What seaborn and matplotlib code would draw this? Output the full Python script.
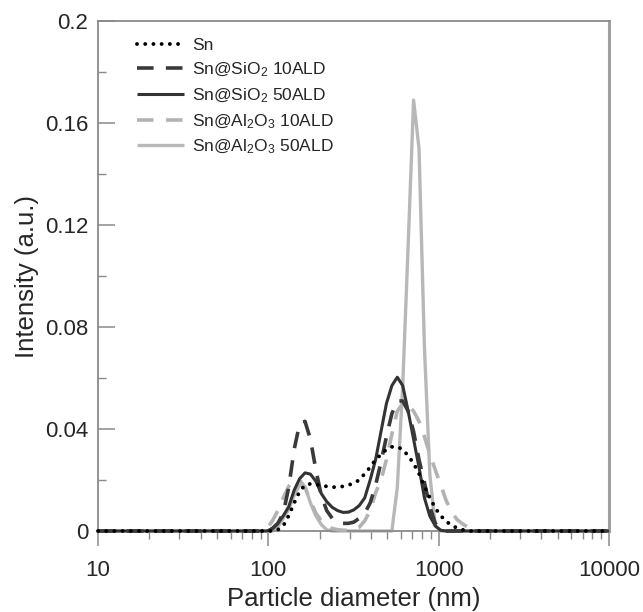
import numpy as np
import pandas as pd
import matplotlib
matplotlib.use("Agg")
import matplotlib.pyplot as plt
import seaborn as sns
from matplotlib.ticker import FixedLocator, LogLocator, NullFormatter

# ---------------- data ----------------
diam_low = [10.0, 11.7, 13.5, 15.7, 18.2, 21.0, 24.4, 28.2, 32.7, 37.8, 43.8,
            50.7, 58.8, 68.1, 78.8, 91.3]
diam_mid = [98.2, 105.7, 113.7, 122.4, 131.7, 141.8, 152.6, 164.2, 176.7, 190.1,
            204.6, 220.2, 237.0, 255.0, 274.4, 295.3, 317.8, 342.0, 368.1, 396.1,
            426.3, 458.7, 493.6, 531.2, 571.6, 615.1, 662.0, 712.4, 766.6, 825.0,
            887.8, 955.4, 1028, 1106, 1191, 1281, 1379, 1484, 1597, 1718, 1849, 1990]
diam_high = [2305, 2669, 3091, 3580, 4145, 4801, 5560, 6439, 7456, 8635, 10000]

sn = [0, 0, 0.0005, 0.002, 0.006, 0.011, 0.0155, 0.018, 0.0185, 0.0183,
      0.0178, 0.0175, 0.0172, 0.0172, 0.0175, 0.018, 0.0188, 0.020, 0.0225, 0.025,
      0.028, 0.030, 0.032, 0.033, 0.033, 0.032, 0.0295, 0.0265, 0.0225, 0.0175,
      0.013, 0.009, 0.006, 0.0038, 0.0022, 0.0012, 0.0005, 0, 0, 0, 0, 0]
sio2_10 = [0, 0.001, 0.003, 0.007, 0.017, 0.032, 0.042, 0.043, 0.036, 0.024,
           0.014, 0.008, 0.005, 0.0035, 0.003, 0.003, 0.0035, 0.005, 0.007, 0.011,
           0.018, 0.027, 0.037, 0.046, 0.051, 0.051, 0.047, 0.039, 0.028, 0.019,
           0.0095, 0.003, 0.0005, 0, 0, 0, 0, 0, 0, 0, 0, 0]
sio2_50 = [0, 0.001, 0.003, 0.006, 0.0095, 0.016, 0.0205, 0.0228, 0.0223, 0.0195,
           0.0147, 0.0115, 0.0093, 0.008, 0.0073, 0.0074, 0.0083, 0.010, 0.013, 0.020,
           0.028, 0.039, 0.050, 0.057, 0.0603, 0.057, 0.047, 0.036, 0.025, 0.013,
           0.0058, 0.002, 0.0003, 0, 0, 0, 0, 0, 0, 0, 0, 0]
al2o3_10 = [0.001, 0.004, 0.008, 0.013, 0.0175, 0.020, 0.020, 0.017, 0.012, 0.007,
            0.004, 0.002, 0.001, 0.0005, 0.0003, 0.0003, 0.0007, 0.0015, 0.004, 0.008,
            0.015, 0.020, 0.028, 0.038, 0.047, 0.050, 0.0495, 0.047, 0.043, 0.037,
            0.030, 0.024, 0.018, 0.012, 0.0075, 0.0045, 0.0028, 0.0015, 0.0005, 0, 0, 0]
al2o3_50 = [0, 0, 0.0015, 0.005, 0.0085, 0.014, 0.018, 0.0175, 0.011, 0.006,
            0.0025, 0.0005, 0, 0, 0, 0, 0, 0, 0, 0,
            0, 0, 0, 0, 0.017, 0.057, 0.112, 0.169, 0.150, 0.072,
            0.022, 0.002, 0, 0, 0, 0, 0, 0, 0, 0, 0, 0]

labels = ["Sn", "Sn@SiO$\\mathregular{_2}$ 10ALD", "Sn@SiO$\\mathregular{_2}$ 50ALD",
          "Sn@Al$\\mathregular{_2}$O$\\mathregular{_3}$ 10ALD",
          "Sn@Al$\\mathregular{_2}$O$\\mathregular{_3}$ 50ALD"]
yticks = [0, 0.04, 0.08, 0.12, 0.16, 0.2]
yticklabels = ["0", "0.04", "0.08", "0.12", "0.16", "0.2"]
xticks = [10, 100, 1000, 10000]
xticklabels = ["10", "100", "1000", "10000"]

# ---------------- style ----------------
sns.set_style("white")
plt.rcParams["font.family"] = ["Liberation Sans", "DejaVu Sans"]
plt.rcParams["mathtext.fontset"] = "custom"
plt.rcParams["mathtext.rm"] = "Liberation Sans"
plt.rcParams["mathtext.it"] = "Liberation Sans:italic"
plt.rcParams["mathtext.bf"] = "Liberation Sans:bold"

diam = diam_low + diam_mid + diam_high
zeros_low = [0] * len(diam_low)
zeros_high = [0] * len(diam_high)
series = [sn, sio2_10, sio2_50, al2o3_10, al2o3_50]

DOT = (0, (0.01, 2.1))
styles = [
    dict(color="#000000", lw=2.8, ls=DOT, z=6),
    dict(color="#3a3a3a", lw=2.6, ls=(0, (4.6, 3.4)), z=5),
    dict(color="#333333", lw=2.2, ls="-", z=4),
    dict(color="#b3b3b3", lw=2.6, ls=(0, (4.6, 3.4)), z=3),
    dict(color="#b8b8b8", lw=2.4, ls="-", z=2),
]

fig = plt.figure(figsize=(6.43, 6.12), dpi=100)
ax = fig.add_axes([98 / 643, 81 / 612, 511 / 643, 510 / 612])

for vals, lab, st in zip(series, labels, styles):
    df = pd.DataFrame({"d": diam, "v": zeros_low + vals + zeros_high})
    sns.lineplot(data=df, x="d", y="v", ax=ax, estimator=None, sort=True,
                 color=st["color"], linewidth=st["lw"], linestyle=st["ls"],
                 label=lab, zorder=st["z"], clip_on=False,
                 dash_capstyle="round" if st["ls"] == DOT else "butt",
                 solid_capstyle="butt")

ax.set_xscale("log")
ax.set_xlim(10, 10000)
ax.set_ylim(0, 0.2)

ax.xaxis.set_major_locator(FixedLocator(xticks))
ax.set_xticklabels(xticklabels)
ax.xaxis.set_minor_locator(LogLocator(base=10, subs=np.arange(2, 10)))
ax.xaxis.set_minor_formatter(NullFormatter())
ax.yaxis.set_major_locator(FixedLocator(yticks))
ax.set_yticklabels(yticklabels)
ax.yaxis.set_minor_locator(FixedLocator([0.02, 0.06, 0.10, 0.14, 0.18]))

spine_col = "#8a8a8a"
for s in ax.spines.values():
    s.set_color(spine_col)
    s.set_linewidth(1.3)
ax.spines["right"].set_linewidth(2.2)
ax.spines["right"].set_color("#a0a0a0")

ax.tick_params(axis="x", which="major", direction="out", length=11, width=1.1,
               color=spine_col, labelsize=16, pad=10, bottom=True)
ax.tick_params(axis="x", which="minor", direction="out", length=6, width=1.0,
               color=spine_col, bottom=True)
ax.tick_params(axis="y", which="major", direction="in", length=12, width=1.1,
               color=spine_col, labelsize=16, pad=7, left=True)
ax.tick_params(axis="y", which="minor", direction="in", length=6, width=1.0,
               color=spine_col, left=True)

ax.set_xlabel("Particle diameter (nm)", fontsize=18.5, labelpad=4)
ax.set_ylabel("Intensity (a.u.)", fontsize=18.5, labelpad=4)

handles, labs = ax.get_legend_handles_labels()
ax.legend(handles, labs, loc="upper left", bbox_to_anchor=(0.076, 0.966),
          frameon=False, fontsize=12.5, handlelength=2.7, handletextpad=0.5,
          labelspacing=0.42, borderpad=0, borderaxespad=0)

fig.savefig("out.png", dpi=100)
